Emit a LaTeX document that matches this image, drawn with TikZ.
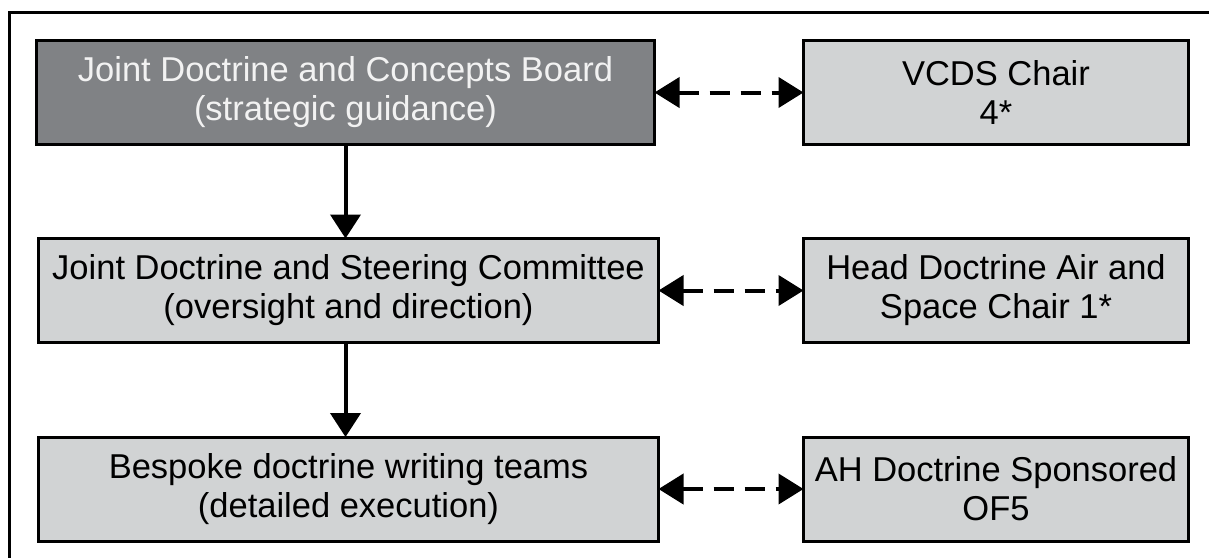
\documentclass[tikz,border=0pt]{standalone}
\usepackage{fontspec}
\setmainfont{Liberation Sans}
\usetikzlibrary{arrows.meta}
\definecolor{darkfill}{HTML}{808285}
\definecolor{lightfill}{HTML}{D1D3D4}
\definecolor{lighttext}{HTML}{F2F2F2}
\tikzset{
  box/.style={draw=black, line width=3pt, inner sep=0pt, outer sep=0pt,
    align=center, font=\fontsize{34.5}{39}\selectfont, minimum height=104pt},
  darkbox/.style={box, fill=darkfill, text=lighttext},
  lightbox/.style={box, fill=lightfill, text=black},
  downarrow/.style={line width=4pt, -{Triangle[length=24pt,width=30pt]}},
  linkarrow/.style={line width=4pt, dash pattern=on 20pt off 11pt,
    {Triangle[length=25pt,width=30pt]}-{Triangle[length=25pt,width=30pt]}},
  frame/.style={draw=black, line width=3pt}
}
\begin{document}
\begin{tikzpicture}[x=1pt,y=-1pt]
\useasboundingbox (0,0) rectangle (1209,558);
\coordinate (fa) at (1209,12.5);
\coordinate (fb) at (9.5,12.5);
\coordinate (fc) at (9.5,558);
\draw[frame] (fa) -- (fb) -- (fc);
\node[darkbox, minimum width=618pt] (b1) at (345.5,92.5)
  {Joint Doctrine and Concepts Board\\(strategic guidance)};
\node[lightbox, minimum width=620pt] (b2) at (348.5,290.5)
  {Joint Doctrine and Steering Committee\\(oversight and direction)};
\node[lightbox, minimum width=620pt] (b3) at (348.5,489)
  {Bespoke doctrine writing teams\\(detailed execution)};
\node[lightbox, minimum width=385pt] (r1) at (996,92.5)
  {VCDS Chair\\4*};
\node[lightbox, minimum width=385pt] (r2) at (996,290.5)
  {Head Doctrine Air and\\Space Chair 1*};
\node[lightbox, minimum width=385pt] (r3) at (996,489)
  {AH Doctrine Sponsored\\OF5};
\draw[downarrow] (b1.south) -- (b1.south |- b2.north);
\draw[downarrow] (b2.south -| b1.south) -- (b1.south |- b3.north);
\draw[linkarrow] (b1.east) -- (r1.west);
\draw[linkarrow] (b2.east) -- (r2.west);
\draw[linkarrow] (b3.east) -- (r3.west);
\end{tikzpicture}
\end{document}
